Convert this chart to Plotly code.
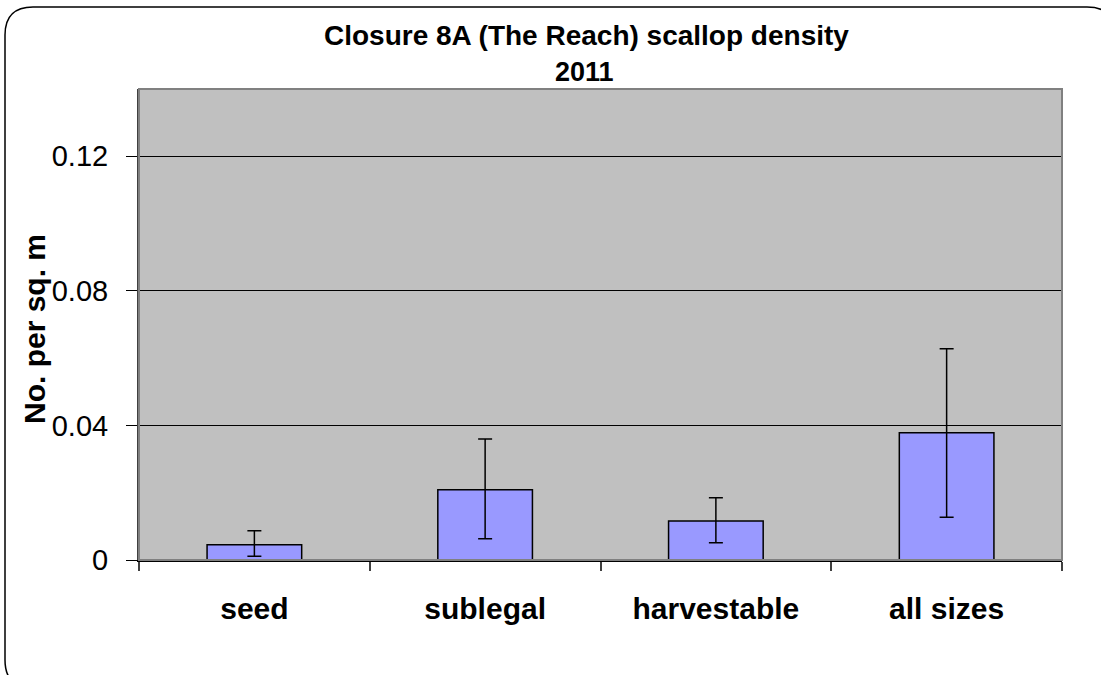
import plotly.graph_objects as go

categories = ["seed", "sublegal", "harvestable", "all sizes"]
density = [0.0045, 0.0209, 0.0116, 0.0378]
err_high = [0.0087, 0.0360, 0.0185, 0.0628]
err_low = [0.0011, 0.0063, 0.0051, 0.0127]
y_ticks = [0, 0.04, 0.08, 0.12]
y_tick_text = ["0", "0.04", "0.08", "0.12"]

W, H = 1101, 675
L, R, T, B = 139, 1062, 89, 560


def px(x):
    return (x - L) / (R - L)


def py(y):
    return (B - y) / (B - T)


plus = [h - v for h, v in zip(err_high, density)]
minus = [v - l for v, l in zip(density, err_low)]

fig = go.Figure()
fig.add_trace(go.Bar(
    x=categories, y=density, width=0.41,
    marker=dict(color="#9999FF", line=dict(color="black", width=1.5)),
    error_y=dict(type="data", symmetric=False, array=plus, arrayminus=minus,
                 color="black", thickness=1.5, width=7),
    hoverinfo="skip",
))

# rounded outer border
bl, bt, br, bb, r = 5, 7, 1115, 688, 28
path = (
    f"M {px(bl)},{py(bt + r)} "
    f"Q {px(bl)},{py(bt)} {px(bl + r)},{py(bt)} "
    f"L {px(br - r)},{py(bt)} "
    f"Q {px(br)},{py(bt)} {px(br)},{py(bt + r)} "
    f"L {px(br)},{py(bb - r)} "
    f"Q {px(br)},{py(bb)} {px(br - r)},{py(bb)} "
    f"L {px(bl + r)},{py(bb)} "
    f"Q {px(bl)},{py(bb)} {px(bl)},{py(bb - r)} Z"
)

FONT = "Liberation Sans, Arial, sans-serif"

fig.update_layout(
    width=W, height=H,
    margin=dict(l=L, r=W - R, t=T, b=H - B, pad=0),
    paper_bgcolor="white",
    plot_bgcolor="#C0C0C0",
    showlegend=False,
    font=dict(family=FONT, color="black"),
    shapes=[
        dict(type="path", xref="paper", yref="paper", path=path,
             line=dict(color="black", width=1.5), layer="below"),
        dict(type="rect", xref="paper", yref="paper", x0=0, x1=1, y0=0, y1=1,
             line=dict(color="#808080", width=2), layer="above"),
    ],
    annotations=[
        dict(text="<b>Closure 8A (The Reach) scallop density</b>", xref="paper", yref="paper",
             x=px(586), y=py(35), xanchor="center", yanchor="middle", showarrow=False,
             font=dict(size=28, family=FONT)),
        dict(text="<b>2011</b>", xref="paper", yref="paper",
             x=px(584), y=py(72), xanchor="center", yanchor="middle", showarrow=False,
             font=dict(size=27, family=FONT)),
        dict(text="<b>No. per sq. m</b>", xref="paper", yref="paper",
             x=px(34), y=py(329), xanchor="center", yanchor="middle", showarrow=False,
             textangle=-90,
             font=dict(size=30, family=FONT)),
    ],
    xaxis=dict(
        type="category", tickson="boundaries", ticks="outside", ticklen=9,
        tickcolor="#404040", tickwidth=1.5,
        showline=True, linecolor="black", linewidth=2,
        showgrid=False, zeroline=False,
        tickfont=dict(size=30, family=FONT, weight="bold"),
        ticklabelstandoff=21,
    ),
    yaxis=dict(
        range=[0, 0.14], tickvals=y_ticks, ticktext=y_tick_text,
        ticks="outside", ticklen=11, tickcolor="black", tickwidth=1,
        showline=True, linecolor="#404040", linewidth=2,
        showgrid=True, gridcolor="black", gridwidth=1,
        zeroline=False,
        tickfont=dict(size=29, family=FONT),
        ticklabelstandoff=12,
    ),
)

fig.write_html(
    "out.html",
    config={"displayModeBar": False},
    post_script="document.body.style.margin='0';document.body.style.overflow='hidden';",
)
